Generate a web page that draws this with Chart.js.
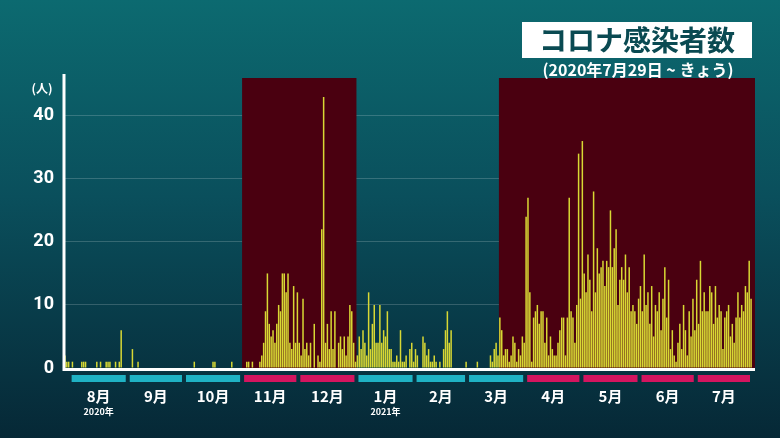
<!DOCTYPE html><html><head><meta charset="utf-8">
<script src="https://cdn.jsdelivr.net/npm/chart.js@4"></script>
<style>html,body{margin:0;padding:0;}body{width:780px;height:438px;background:linear-gradient(#0c6a70 0%,#0a4f5c 45%,#062836 100%);}</style>
</head><body><canvas id="c" width="780" height="438"></canvas>
<script>
const jul2020=[2,1,1];
const aug=[0,1,0,0,0,0,1,1,1,0,0,0,0,0,1,0,1,0,0,1,1,1,0,0,1,0,1,6,0,0,0];
const sep=[0,0,3,0,0,1,0,0,0,0,0,0,0,0,0,0,0,0,0,0,0,0,0,0,0,0,0,0,0,0];
const oct=[0,0,0,0,0,1,0,0,0,0,0,0,0,0,0,1,1,0,0,0,0,0,0,0,0,1,0,0,0,0,0];
const nov=[0,0,1,1,0,1,0,0,0,1,2,4,9,15,7,5,6,4,7,10,9,15,15,12,15,4,3,13,4,12];
const dec=[4,2,11,3,4,2,4,0,7,0,2,1,22,43,4,7,3,9,3,9,0,4,5,3,5,2,5,10,9,4,1];
const jan=[2,5,3,6,4,2,12,3,7,10,4,4,10,4,6,5,9,3,3,1,1,2,1,6,1,1,2,0,3,4,1];
const feb=[3,2,0,0,5,4,2,3,1,1,2,1,0,1,0,3,6,9,4,6,0,0,0,0,0,0,0,1];
const mar=[0,0,0,0,0,1,0,0,0,0,0,0,2,1,3,4,2,8,6,2,3,3,1,2,5,4,1,3,2,5,4];
const apr=[24,27,12,1,8,9,10,7,9,9,4,8,2,5,3,2,2,4,6,8,8,2,8,27,9,8,4,10,34,11];
const may=[36,15,12,18,14,9,28,12,19,15,16,17,13,17,16,25,16,19,22,10,14,16,14,18,12,16,9,10,9,7,11];
const jun=[13,9,18,10,12,7,13,5,10,9,12,6,11,16,8,14,3,6,2,1,4,7,3,10,6,2,9,5,11,6];
const jul=[14,7,17,9,12,9,9,13,12,7,13,8,10,9,3,8,9,10,5,7,4,8,12,8,10,9,13,12,17,11];
const yTicks=[0,10,20,30,40];
const months=[["8月",aug,false,"2020年"],["9月",sep,false],["10月",oct,false],["11月",nov,true],["12月",dec,true],["1月",jan,false,"2021年"],["2月",feb,false],["3月",mar,false],["4月",apr,true],["5月",may,true],["6月",jun,true],["7月",jul,true]];
const values=[].concat(jul2020,aug,sep,oct,nov,dec,jan,feb,mar,apr,may,jun,jul);
const labels=values.map((v,i)=>String(i));
const redRanges=[[3+31+30+31,3+31+30+31+30+31-1],[3+31+30+31+30+31+31+28+17,values.length-1]];
const deco={id:'deco',
beforeDatasetsDraw(ch){const {ctx,scales:{x,y},chartArea:a}=ch;const hw=(x.getPixelForValue(1)-x.getPixelForValue(0))/2;
 ctx.save();ctx.fillStyle='#4a0010';
 redRanges.forEach(r=>{const l=x.getPixelForValue(r[0])-hw,rr=r[1]===values.length-1?755:x.getPixelForValue(r[1])+hw;ctx.fillRect(l,a.top,rr-l,a.bottom-a.top+2);});
 ctx.restore();},
afterDraw(ch){const {ctx,scales:{x,y},chartArea:a}=ch;const hw=(x.getPixelForValue(1)-x.getPixelForValue(0))/2;
 ctx.save();let idx=3;
 months.forEach(m=>{const s=x.getPixelForValue(idx)-hw,e=x.getPixelForValue(idx+m[1].length-1)+hw;
  ctx.fillStyle=m[2]?'#d4155f':'#1fb2c4';ctx.fillRect(s+2,375,e-s-4,7);
  ctx.fillStyle='#fff';ctx.font='bold 15px "Noto Sans CJK JP"';ctx.textAlign='center';ctx.textBaseline='middle';ctx.fillText(m[0],(s+e)/2,396);
  if(m[3]){ctx.font='bold 9px "Noto Sans CJK JP"';ctx.fillText(m[3],(s+e)/2,412);}
  idx+=m[1].length;});
 ctx.strokeStyle='#fff';ctx.lineWidth=3;ctx.beginPath();ctx.moveTo(a.left,a.top-4);ctx.lineTo(a.left,a.bottom+1.5);ctx.lineTo(a.right+3,a.bottom+1.5);ctx.stroke();
 ctx.fillStyle='#fff';ctx.font='bold 12px "Noto Sans CJK JP"';ctx.textAlign='center';ctx.textBaseline='middle';ctx.fillText('(人)',42,88);
 ctx.fillRect(522,22,230,36);ctx.fillStyle='#0a4a52';ctx.font='bold 28px "Noto Sans CJK JP"';ctx.fillText('コロナ感染者数',637,40);
 ctx.fillStyle='#fff';ctx.font='bold 16px "Noto Sans CJK JP"';ctx.fillText('(2020年7月29日 ~ きょう)',638,70);
 ctx.restore();}};
new Chart(document.getElementById('c'),{type:'bar',data:{labels,datasets:[{data:values,backgroundColor:'#d8d834',borderWidth:0,barPercentage:1,categoryPercentage:0.8}]},
options:{responsive:false,animation:false,plugins:{legend:{display:false},tooltip:{enabled:false}},
layout:{padding:{left:0,right:28,top:78,bottom:62}},
scales:{x:{ticks:{display:false},grid:{display:false},border:{display:false}},
y:{min:0,max:46,afterFit(s){s.width=64;},afterBuildTicks(s){s.ticks=yTicks.map(v=>({value:v}));},
ticks:{color:'#fff',font:{size:18,weight:'bold',family:'Roboto'},padding:10},grid:{color:'rgba(255,255,255,0.18)',drawTicks:false},border:{display:false}}}},
plugins:[deco]});
</script></body></html>
